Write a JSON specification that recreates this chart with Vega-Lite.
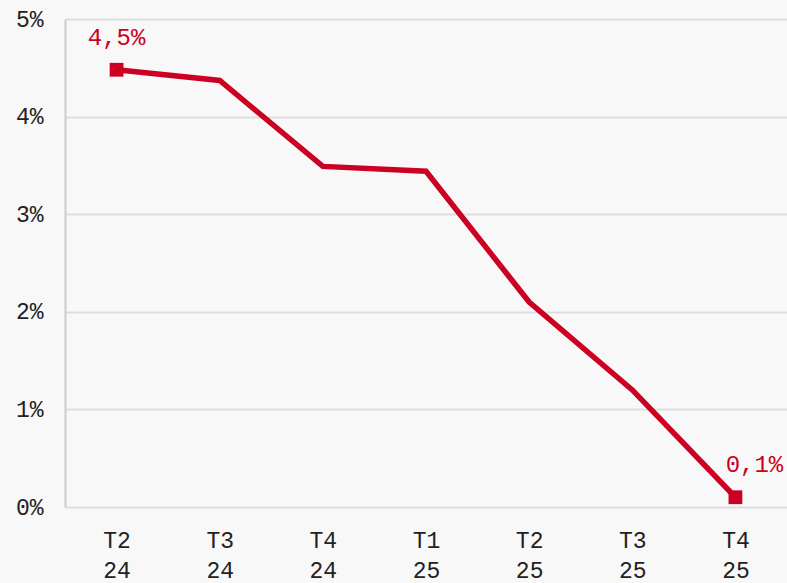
{
  "$schema": "https://vega.github.io/schema/vega-lite/v6.json",
  "width": 722,
  "height": 488,
  "autosize": {"type": "none"},
  "padding": {"left": 65, "top": 19, "right": 0, "bottom": 76},
  "background": "#f8f8f8",
  "config": {
    "view": {"stroke": null},
    "font": "Liberation Mono",
    "locale": {"number": {"decimal": ",", "thousands": ".", "grouping": [3], "currency": ["", " €"]}}
  },
  "data": {
    "values": [
      {"q": "T2 24", "v": 0.0448},
      {"q": "T3 24", "v": 0.0437},
      {"q": "T4 24", "v": 0.0349},
      {"q": "T1 25", "v": 0.0344},
      {"q": "T2 25", "v": 0.0210},
      {"q": "T3 25", "v": 0.0120},
      {"q": "T4 25", "v": 0.0010}
    ]
  },
  "encoding": {
    "x": {
      "field": "q", "type": "ordinal", "sort": null,
      "scale": {"type": "point", "padding": 0.5},
      "axis": {
        "title": null, "labelAngle": 0, "ticks": false, "domain": false,
        "labelExpr": "split(datum.label, ' ')",
        "labelFontSize": 23, "labelColor": "#222222", "labelPadding": 22,
        "labelLineHeight": 30, "labelBaseline": "top"
      }
    },
    "y": {
      "field": "v", "type": "quantitative",
      "scale": {"domain": [0, 0.05], "nice": false},
      "axis": {
        "title": null, "format": ".0%", "values": [0, 0.01, 0.02, 0.03, 0.04, 0.05],
        "ticks": false, "domain": true, "domainColor": "#cccccc", "domainWidth": 2,
        "gridColor": "#dddddd", "gridWidth": 2,
        "labelFontSize": 23, "labelColor": "#222222", "labelPadding": 22
      }
    }
  },
  "layer": [
    {"mark": {"type": "line", "color": "#cc0022", "strokeWidth": 5.5}},
    {
      "transform": [{"filter": "datum.q == 'T2 24' || datum.q == 'T4 25'"}],
      "mark": {"type": "point", "shape": "square", "filled": true, "size": 190, "color": "#cc0022", "opacity": 1}
    },
    {
      "transform": [{"filter": "datum.q == 'T2 24'"}],
      "mark": {"type": "text", "color": "#cc0022", "fontSize": 24, "dy": -32},
      "encoding": {"text": {"field": "v", "type": "quantitative", "format": ".1%"}}
    },
    {
      "transform": [{"filter": "datum.q == 'T4 25'"}],
      "mark": {"type": "text", "color": "#cc0022", "fontSize": 24, "dy": -32, "dx": 19},
      "encoding": {"text": {"field": "v", "type": "quantitative", "format": ".1%"}}
    }
  ]
}
